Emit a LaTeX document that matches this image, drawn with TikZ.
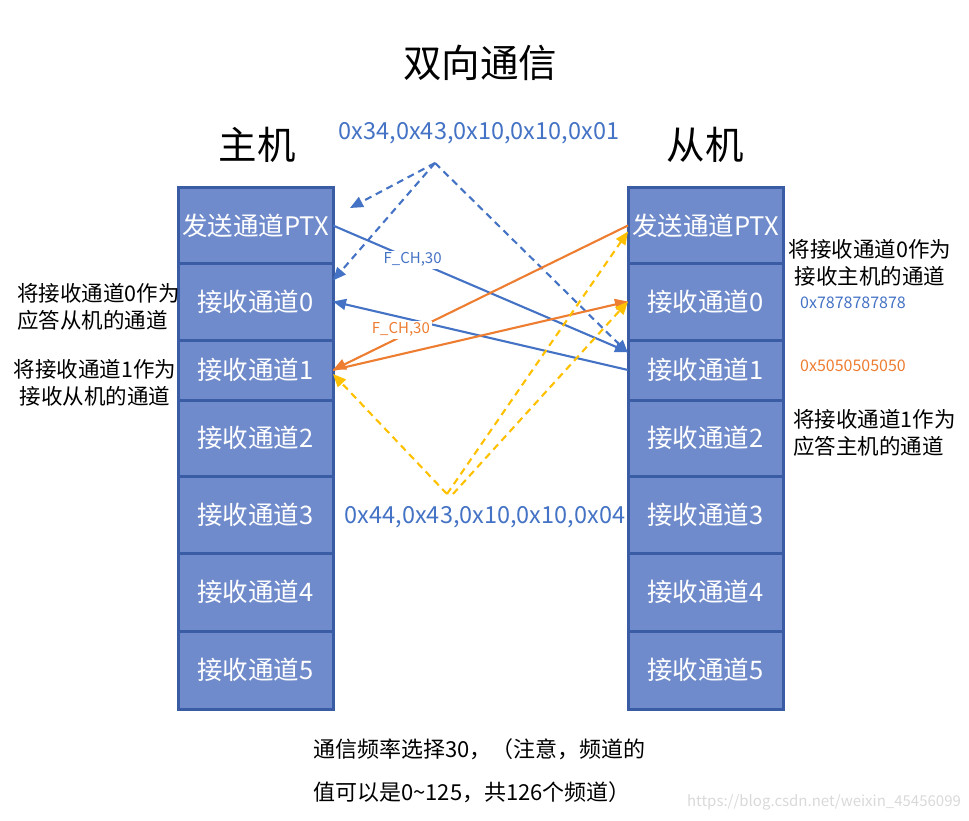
\documentclass[tikz,border=0pt]{standalone}
\usepackage{fontspec}
\setmainfont{Noto Sans CJK SC}
\usetikzlibrary{arrows.meta, positioning, calc}
\definecolor{accent}{HTML}{4472C4}
\definecolor{warm}{HTML}{ED7D31}
\definecolor{gold}{HTML}{FFC000}
\definecolor{chfill}{RGB}{112,139,203}
\definecolor{chline}{RGB}{58,92,165}

\begin{document}
\begin{tikzpicture}[
    x=1pt, y=-1pt,
    chan/.style={draw=chline, fill=chfill, line width=3pt, outer sep=0pt, inner sep=0pt,
                 minimum width=155pt, font=\fontsize{25.5}{28}\selectfont, text=white},
    head/.style={font=\fontsize{38.5}{44}\selectfont, inner sep=0pt},
    note/.style={font=\fontsize{21.5}{27}\selectfont, inner sep=0pt},
    hexlbl/.style={font=\fontsize{23.5}{27}\selectfont, text=accent, inner sep=0pt},
    addr/.style={font=\fontsize{16}{19}\selectfont, inner sep=0pt, anchor=west},
    lbl/.style={font=\fontsize{15}{18}\selectfont, fill=white, inner sep=2pt},
    arrow/.style={-{Triangle[length=13pt, width=11pt]}, line width=2.1pt},
    dashline/.style={dash pattern=on 7pt off 5pt},
]
    \useasboundingbox (0,0) rectangle (969,821);
    % master channels
    \node[chan, minimum height=75pt] (mptx) at (255.5,225.5) {发送通道PTX};
    \node[chan, minimum height=77pt, below=0pt of mptx] (mrx0) {接收通道0};
    \node[chan, minimum height=60pt, below=0pt of mrx0] (mrx1) {接收通道1};
    \node[chan, minimum height=76pt, below=0pt of mrx1] (mrx2) {接收通道2};
    \node[chan, minimum height=77pt, below=0pt of mrx2] (mrx3) {接收通道3};
    \node[chan, minimum height=78pt, below=0pt of mrx3] (mrx4) {接收通道4};
    \node[chan, minimum height=78pt, below=0pt of mrx4] (mrx5) {接收通道5};
    % slave channels
    \node[chan, minimum height=75pt] (sptx) at (705.5,225.5) {发送通道PTX};
    \node[chan, minimum height=77pt, below=0pt of sptx] (srx0) {接收通道0};
    \node[chan, minimum height=60pt, below=0pt of srx0] (srx1) {接收通道1};
    \node[chan, minimum height=76pt, below=0pt of srx1] (srx2) {接收通道2};
    \node[chan, minimum height=77pt, below=0pt of srx2] (srx3) {接收通道3};
    \node[chan, minimum height=78pt, below=0pt of srx3] (srx4) {接收通道4};
    \node[chan, minimum height=78pt, below=0pt of srx4] (srx5) {接收通道5};
    % headings
    \node[head] (title) at (480,63) {双向通信};
    \node[head] (mhead) at (257,145) {主机};
    \node[head] (shead) at (705,145) {从机};
    \node[hexlbl] (hexa) at (479,133) {0x34,0x43,0x10,0x10,0x01};
    \node[hexlbl] (hexb) at (485,517) {0x44,0x43,0x10,0x10,0x04};
    % notes
    \node[note, align=left, anchor=west] (mnote0) at (17,306.5) {将接收通道0作为\\应答从机的通道};
    \node[note, align=center] (mnote1) at (95,382.5) {将接收通道1作为\\接收从机的通道};
    \node[note, align=center] (snote0) at (870,262.5) {将接收通道0作为\\接收主机的通道};
    \node[note, align=left, anchor=west] (snote1) at (793,432.5) {将接收通道1作为\\应答主机的通道};
    \node[addr, text=accent] (saddr0) at (800,303) {0x7878787878};
    \node[addr, text=warm] (saddr1) at (800,366) {0x5050505050};
    \node[note, align=left, anchor=west, font=\fontsize{22}{43}\selectfont] (freq) at (313,770.5)
         {通信频率选择30，（注意，频道的\\值可以是0\textasciitilde 125，共126个频道）};
    \node[font=\fontsize{15}{18}\selectfont, text=gray!30, inner sep=0pt] (mark) at (824,802)
         {https://blog.csdn.net/weixin\_45456099};
    % blue dashed, address 0x34...
    \coordinate (bapex) at (435,163);
    \coordinate (bfree) at (350,208);
    \draw[arrow, accent, dashline] (bapex) -- (bfree);
    \draw[arrow, accent, dashline] (bapex) -- ([yshift=21pt]mrx0.east);
    \draw[arrow, accent, dashline] (bapex) -- ([yshift=17pt]srx1.west);
    % blue solid
    \draw[arrow, accent] (mptx.east) -- node[lbl, text=accent, pos=0.27] (fchm) {F\_CH,30} ([yshift=18pt]srx1.west);
    \draw[arrow, accent] (srx1.west) -- (mrx0.east);
    % orange solid
    \draw[arrow, warm] (sptx.west) -- node[lbl, text=warm, pos=0.77, yshift=7pt] (fchs) {F\_CH,30} (mrx1.east);
    \draw[arrow, warm] (mrx1.east) -- (srx0.west);
    % yellow dashed, address 0x44...
    \coordinate (yapexa) at (447,494);
    \coordinate (yapexb) at (453,494);
    \draw[arrow, gold, dashline] (yapexa) -- ([yshift=-4pt]mrx1.east);
    \draw[arrow, gold, dashline] (yapexa) -- ([yshift=-6pt]sptx.west);
    \draw[arrow, gold, dashline] (yapexb) -- (srx0.west);
\end{tikzpicture}
\end{document}
